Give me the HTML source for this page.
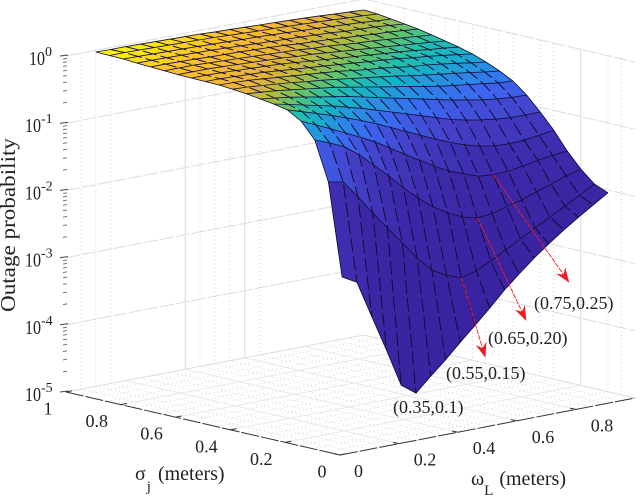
<!DOCTYPE html>
<html lang="en">
<head>
<meta charset="utf-8">
<title>Outage probability surface</title>
<style>
html,body{margin:0;padding:0;background:#fff;}
svg{display:block;width:640px;height:496px;font-family:"Liberation Serif",serif;fill:#222;}
</style>
</head>
<body>
<svg id="chart" width="640" height="496" viewBox="0 0 640 496" xmlns="http://www.w3.org/2000/svg">
<g id="walls"></g>
<g id="surface" style="filter:blur(0.25px)"></g>
<g id="axes"></g>
<g id="arrows"></g>
<text x="15" y="312" transform="rotate(-90 15 312)" font-size="21" textLength="174" lengthAdjust="spacingAndGlyphs">Outage probability</text>
<text x="135" y="480" font-size="20">σ<tspan font-size="15" dx="1" dy="11">j</tspan><tspan dx="7" dy="-11">(meters)</tspan></text>
<text x="471" y="485" font-size="20">ω<tspan font-size="15" dx="0" dy="10">L</tspan><tspan dx="6" dy="-10">(meters)</tspan></text>
<text x="393" y="413" font-size="18">(0.35,0.1)</text>
<text x="446" y="379" font-size="18">(0.55,0.15)</text>
<text x="488" y="344" font-size="18">(0.65,0.20)</text>
<text x="534" y="309" font-size="18">(0.75,0.25)</text>
</svg>
<script>
// Chart data
const omegaValues = [0.1,0.15,0.2,0.25,0.3,0.35,0.4,0.45,0.5,0.55,0.6,0.65,0.7,0.75,0.8,0.85,0.9,0.95,1];
const sigmaValues = [1,0.95,0.9,0.85,0.8,0.75,0.7,0.65,0.6,0.55,0.5,0.45,0.4,0.35,0.3,0.25,0.2,0.15,0.1];
// log10 of outage probability; one row per sigma value, one column per omega value
const logOutage = [
[-.025,-.03,-.03,-.035,-.04,-.045,-.05,-.055,-.065,-.07,-.08,-.09,-.095,-.105,-.115,-.125,-.14,-.15,-.164],
[-.03,-.03,-.035,-.04,-.045,-.05,-.055,-.06,-.07,-.08,-.09,-.095,-.105,-.115,-.125,-.135,-.15,-.16,-.176],
[-.036,-.04,-.045,-.05,-.055,-.06,-.07,-.075,-.085,-.09,-.10,-.11,-.12,-.13,-.145,-.16,-.17,-.19,-.204],
[-.05,-.05,-.055,-.06,-.065,-.07,-.08,-.09,-.10,-.11,-.12,-.13,-.14,-.15,-.17,-.18,-.19,-.21,-.231],
[-.06,-.06,-.065,-.07,-.08,-.085,-.09,-.10,-.11,-.12,-.14,-.15,-.16,-.18,-.19,-.21,-.22,-.24,-.259],
[-.07,-.07,-.07,-.08,-.09,-.10,-.11,-.12,-.13,-.14,-.16,-.17,-.19,-.21,-.22,-.24,-.26,-.28,-.301],
[-.08,-.08,-.08,-.09,-.10,-.11,-.12,-.13,-.15,-.16,-.18,-.20,-.22,-.24,-.26,-.28,-.30,-.32,-.344],
[-.085,-.085,-.09,-.10,-.11,-.12,-.13,-.15,-.17,-.19,-.21,-.23,-.25,-.27,-.29,-.31,-.34,-.36,-.387],
[-.09,-.09,-.10,-.11,-.12,-.14,-.16,-.18,-.20,-.22,-.24,-.26,-.28,-.30,-.33,-.35,-.38,-.41,-.443],
[-.095,-.10,-.11,-.13,-.15,-.17,-.19,-.21,-.23,-.26,-.29,-.31,-.34,-.37,-.39,-.42,-.45,-.485,-.516],
[-.11,-.12,-.14,-.16,-.18,-.21,-.23,-.26,-.29,-.32,-.35,-.38,-.42,-.45,-.48,-.51,-.54,-.575,-.603],
[-.13,-.15,-.17,-.20,-.23,-.26,-.29,-.33,-.37,-.41,-.45,-.49,-.53,-.57,-.60,-.63,-.66,-.69,-.705],
[-.16,-.19,-.22,-.26,-.30,-.34,-.38,-.43,-.48,-.53,-.58,-.63,-.68,-.73,-.77,-.81,-.84,-.86,-.866],
[-.19,-.24,-.29,-.34,-.39,-.45,-.51,-.58,-.65,-.72,-.79,-.86,-.93,-.98,-1.02,-1.05,-1.07,-1.075,-1.07],
[-.23,-.30,-.37,-.44,-.52,-.60,-.69,-.79,-.89,-.99,-1.09,-1.18,-1.26,-1.32,-1.36,-1.37,-1.36,-1.33,-1.295],
[-.35,-.45,-.55,-.655,-.76,-.87,-1.005,-1.14,-1.27,-1.40,-1.52,-1.60,-1.68,-1.70,-1.69,-1.655,-1.61,-1.58,-1.56],
[-.585,-.67,-.77,-.93,-1.13,-1.33,-1.55,-1.745,-1.92,-2.05,-2.155,-2.21,-2.19,-2.12,-2.07,-1.99,-1.92,-1.84,-1.78],
[-1.163,-1.205,-1.47,-1.75,-2.02,-2.28,-2.55,-2.77,-2.89,-2.97,-2.91,-2.805,-2.68,-2.56,-2.44,-2.32,-2.20,-2.08,-1.956],
[-2.53,-2.65,-3.2,-3.74,-4.31,-4.47,-4.26,-4.06,-3.84,-3.63,-3.415,-3.19,-2.99,-2.8,-2.63,-2.47,-2.32,-2.18,-2.04]
];
const zDecades = [0,-1,-2,-3,-4,-5];
const zMinorFactors = [2,3,4,5,6,7,8,9];
const sigmaTicks = ["1","0.8","0.6","0.4","0.2","0"];
const sigmaTickValues = [1,0.8,0.6,0.4,0.2,0];
const omegaTicks = ["0","0.2","0.4","0.6","0.8"];
const omegaTickValues = [0,0.2,0.4,0.6,0.8];
const leftWallMajor = [0.4,0.6];
const leftWallMinor = [0.05,0.1,0.15,0.45,0.5,0.55,0.65];
const rightWallMajor = [0.2];
const rightWallMinor = [0.05,0.1,0.3,0.35,0.45,0.5,0.55,0.6,0.65,0.7,0.75,0.85];
const floorMajor = [0.2,0.4,0.6,0.8];
const floorMinor = [0.05,0.1,0.15,0.25,0.3,0.35,0.45,0.5,0.55,0.65,0.7,0.75,0.85,0.9,0.95];
const colorStops = ["#3a23a0","#4440c8","#3c66f0","#2a8ce4","#18aecb","#20bfb0","#5cc56e","#b0bc40","#e8b33a","#fcc02c","#f9f40f"];
const peakAnnotations = [[0.55,0.15],[0.65,0.20],[0.75,0.25]];
const annotationNames = ["arrow-0.55-0.15","arrow-0.65-0.20","arrow-0.75-0.25"];

// Axis functions
function projX(w,s){return 340+295*w-274*s+3*w*s;}
function projY(w,s,lz){return 455-57*w-63*s-67.2*(lz+5);}
function mk(tag,attrs,parent){
  const e=document.createElementNS("http://www.w3.org/2000/svg",tag);
  for(const k in attrs){e.setAttribute(k,attrs[k]);}
  parent.appendChild(e);
  return e;
}
function hex(c){return [parseInt(c.slice(1,3),16),parseInt(c.slice(3,5),16),parseInt(c.slice(5,7),16)];}
function colorAt(t){
  t=Math.max(0,Math.min(1,t))*(colorStops.length-1);
  const i=Math.min(colorStops.length-2,Math.floor(t)),f=t-i;
  const a=hex(colorStops[i]),b=hex(colorStops[i+1]);
  return "rgb("+a.map((v,n)=>Math.round(v+(b[n]-v)*f)).join(",")+")";
}
const walls=document.getElementById("walls"),surface=document.getElementById("surface"),axes=document.getElementById("axes"),arrows=document.getElementById("arrows");

// Wall and floor grids
zDecades.forEach(function(d){
  const l=mk("polyline",{points:[projX(0,1),projY(0,1,d),projX(1,1),projY(1,1,d),projX(1,0),projY(1,0,d)].join(" "),fill:"none",stroke:"#dcdcdc","stroke-width":1,"stroke-dasharray":d===-5?"none":"14 2"},walls);
  
  
});
leftWallMajor.forEach(function(w){
  const l=mk("line",{x1:projX(w,1),y1:projY(w,1,0),x2:projX(w,1),y2:projY(w,1,-5),stroke:"#dcdcdc","stroke-width":1},walls);
  
  
});
leftWallMinor.forEach(function(w){
  const l=mk("line",{x1:projX(w,1),y1:projY(w,1,0),x2:projX(w,1),y2:projY(w,1,-5),stroke:"#c4c4c4","stroke-width":0.8,"stroke-dasharray":"1 3"},walls);
  
  
});
rightWallMajor.forEach(function(s){
  const l=mk("line",{x1:projX(1,s),y1:projY(1,s,0),x2:projX(1,s),y2:projY(1,s,-5),stroke:"#dcdcdc","stroke-width":1},walls);
  
  
});
rightWallMinor.forEach(function(s){
  const l=mk("line",{x1:projX(1,s),y1:projY(1,s,0),x2:projX(1,s),y2:projY(1,s,-5),stroke:"#c4c4c4","stroke-width":0.8,"stroke-dasharray":"1 3"},walls);
  
  
});
floorMinor.forEach(function(v){
  const a=mk("line",{x1:projX(v,0),y1:projY(v,0,-5),x2:projX(v,1),y2:projY(v,1,-5),stroke:"#cfcfcf","stroke-width":0.8,"stroke-dasharray":"1 3"},walls);
  
  
  const b=mk("line",{x1:projX(0,v),y1:projY(0,v,-5),x2:projX(1,v),y2:projY(1,v,-5),stroke:"#cfcfcf","stroke-width":0.8,"stroke-dasharray":"1 3"},walls);
  
  
});
floorMajor.forEach(function(v){
  const a=mk("line",{x1:projX(v,0),y1:projY(v,0,-5),x2:projX(v,1),y2:projY(v,1,-5),stroke:"#e8e8e8","stroke-width":1},walls);
  
  
  const b=mk("line",{x1:projX(0,v),y1:projY(0,v,-5),x2:projX(1,v),y2:projY(1,v,-5),stroke:"#e8e8e8","stroke-width":1},walls);
  
  
});

// Surface facets, back to front
const maxLog=Math.max.apply(null,logOutage.map(function(r){return Math.max.apply(null,r);}));
for(let i=0;i<sigmaValues.length-1;i++){
  for(let j=omegaValues.length-2;j>=0;j--){
    const corners=[[i,j],[i,j+1],[i+1,j+1],[i+1,j]];
    const pts=corners.map(function(c){return projX(omegaValues[c[1]],sigmaValues[c[0]]).toFixed(1)+","+projY(omegaValues[c[1]],sigmaValues[c[0]],logOutage[c[0]][c[1]]).toFixed(1);}).join(" ");
    let sum=0;
    corners.forEach(function(c){sum+=Math.pow(10,logOutage[c[0]][c[1]]-maxLog);});
    const col=colorAt(sum/4);
    const f=mk("polygon",{points:pts,fill:col,stroke:col,"stroke-width":0.4},surface);
    
    
  }
}
// Mesh lines
for(let i=0;i<sigmaValues.length;i++){
  const pts=omegaValues.map(function(w,j){return projX(w,sigmaValues[i]).toFixed(1)+","+projY(w,sigmaValues[i],logOutage[i][j]).toFixed(1);}).join(" ");
  const m=mk("polyline",{points:pts,fill:"none",stroke:"#14103a","stroke-width":0.85},surface);
  
  
}
for(let j=0;j<omegaValues.length;j++){
  const pts=sigmaValues.map(function(s,i){return projX(omegaValues[j],s).toFixed(1)+","+projY(omegaValues[j],s,logOutage[i][j]).toFixed(1);}).join(" ");
  const m=mk("polyline",{points:pts,fill:"none",stroke:"#100c30","stroke-width":(j===0||j===omegaValues.length-1)?0.8:0.95,"stroke-dasharray":(j===0||j===omegaValues.length-1)?"none":"14 4"},surface);
  
  
}

// Axes
const sigmaAxis=mk("line",{x1:projX(0,1),y1:projY(0,1,-5),x2:projX(0,0),y2:projY(0,0,-5),stroke:"#333","stroke-width":1,"stroke-dasharray":"18 2"},axes);


const omegaAxis=mk("line",{x1:projX(0,0),y1:projY(0,0,-5),x2:projX(1,0),y2:projY(1,0,-5),stroke:"#333","stroke-width":1,"stroke-dasharray":"18 2"},axes);



zDecades.forEach(function(d,idx){
  const y=projY(0,1,d);
  const t=mk("line",{x1:projX(0,1)-6,y1:y,x2:projX(0,1)+2,y2:y-1,stroke:"#444","stroke-width":1},axes);
  
  
  if(d>-5){
    zMinorFactors.forEach(function(m){
      const ym=projY(0,1,d-1+Math.log10(m));
      const tm=mk("line",{x1:projX(0,1)-3,y1:ym,x2:projX(0,1)+1,y2:ym-0.7,stroke:"#666","stroke-width":0.9},axes);
      
      
    });
  }
  const lab=mk("text",{x:d===0?29:25,y:y+9,"font-size":19.5},axes);
  
  
  const base=mk("tspan",{textLength:16,lengthAdjust:"spacingAndGlyphs"},lab);
  base.textContent="10";
  const ex=mk("tspan",{dy:-9,"font-size":14},lab);
  ex.textContent=String(d);
});
sigmaTickValues.forEach(function(s,i){
  const tk=mk("line",{x1:projX(0,s),y1:projY(0,s,-5),x2:projX(0,s)+6,y2:projY(0,s,-5)-1.2,stroke:"#333","stroke-width":1},axes);
  
  
  const lab=mk("text",{x:projX(0,s)-((i===0||i===5)?18:24),y:projY(0,s,-5)+22.5,"font-size":18,"text-anchor":"middle"},axes);
  
  
  lab.textContent=sigmaTicks[i];
});
omegaTickValues.forEach(function(w,i){
  const tk=mk("line",{x1:projX(w,0),y1:projY(w,0,-5),x2:projX(w,0)-6,y2:projY(w,0,-5)-1.2,stroke:"#333","stroke-width":1},axes);
  
  
  const lab=mk("text",{x:projX(w,0)+(i===0?18.5:26),y:projY(w,0,-5)+22,"font-size":18,"text-anchor":"middle"},axes);
  
  
  lab.textContent=omegaTicks[i];
});

// Red annotation arrows, anchored on the surface minima
peakAnnotations.forEach(function(p,idx){
  const i=sigmaValues.findIndex(function(v){return Math.abs(v-p[1])<1e-6;});
  const j=omegaValues.findIndex(function(v){return Math.abs(v-p[0])<1e-6;});
  const x0=projX(p[0],p[1]),y0=projY(p[0],p[1],logOutage[i][j]);
  const dx=idx===0?24:idx===1?49:76,dy=idx===0?80:idx===1?103:108;
  const x1=x0+dx,y1=y0+dy;
  const len=Math.hypot(dx,dy),ux=dx/len,uy=dy/len;
  const g=mk("g",{},arrows);
  
  
  mk("line",{x1:x0,y1:y0,x2:x1-ux*10,y2:y1-uy*10,stroke:"#ee1c25","stroke-width":0.9,"stroke-dasharray":"5 1"},g);
  const bx=x1-ux*15,by=y1-uy*15,nx=-uy,ny=ux;
  mk("polygon",{points:[x1,y1,bx+nx*5.5,by+ny*5.5,x1-ux*10,y1-uy*10,bx-nx*5.5,by-ny*5.5].map(function(v){return v.toFixed(1);}).join(" "),fill:"#ee1c25"},g);
});
</script>
</body>
</html>
